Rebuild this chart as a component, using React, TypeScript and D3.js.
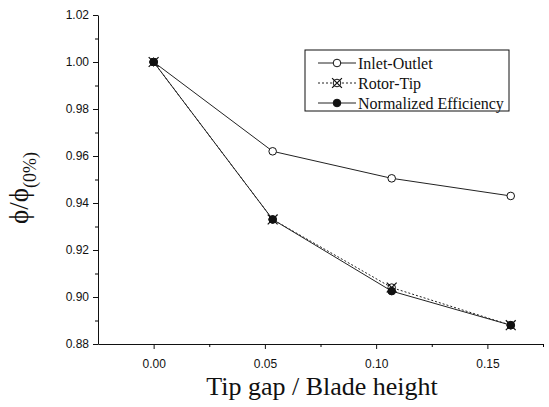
import React, { useEffect, useRef } from 'react';
import * as d3 from 'd3';

// tip gap ratio for each measured case
const gapRatio = [0, 0.0535, 0.107, 0.1605];

// series values (phi / phi at 0%)
const inletOutlet = [1.0, 0.962, 0.9505, 0.943];
const rotorTip = [1.0, 0.933, 0.904, 0.888];
const normalizedEfficiency = [1.0, 0.933, 0.9025, 0.888];

const seriesNames = ['Inlet-Outlet', 'Rotor-Tip', 'Normalized Efficiency'];

const xMajorTicks = [0, 0.05, 0.1, 0.15];
const xMinorTicks = [0.025, 0.075, 0.125, 0.175];
const yMajorTicks = [0.88, 0.9, 0.92, 0.94, 0.96, 0.98, 1.0, 1.02];
const yMinorTicks = [0.89, 0.91, 0.93, 0.95, 0.97, 0.99, 1.01];

const W = 549, H = 407;
const plot = { left: 98, right: 543, top: 15, bottom: 344 };

export default function App() {
	const svgRef = useRef<SVGSVGElement>(null);

	useEffect(() => {
		const svg = d3.select(svgRef.current);
		svg.selectAll('*').remove();

		const x = d3.scaleLinear().domain([-0.025, 0.175]).range([plot.left, plot.right]);
		const y = d3.scaleLinear().domain([0.88, 1.02]).range([plot.bottom, plot.top]);

		const sans = 'Liberation Sans, Arial, sans-serif';
		const serif = 'Liberation Serif, Times New Roman, serif';

		// axes
		const xAxis = svg.append('g').attr('transform', `translate(0,${plot.bottom})`)
			.call(d3.axisBottom(x).tickValues(xMajorTicks).tickFormat(d3.format('.2f')).tickSize(5).tickPadding(10).tickSizeOuter(0));
		svg.append('g').attr('transform', `translate(0,${plot.bottom})`)
			.call(d3.axisBottom(x).tickValues(xMinorTicks).tickFormat(() => '').tickSize(3).tickSizeOuter(0))
			.select('.domain').remove();
		const yAxis = svg.append('g').attr('transform', `translate(${plot.left},0)`)
			.call(d3.axisLeft(y).tickValues(yMajorTicks).tickFormat(d3.format('.2f')).tickSize(5).tickPadding(4).tickSizeOuter(0));
		svg.append('g').attr('transform', `translate(${plot.left},0)`)
			.call(d3.axisLeft(y).tickValues(yMinorTicks).tickFormat(() => '').tickSize(3).tickSizeOuter(0))
			.select('.domain').remove();

		[xAxis, yAxis].forEach(a => {
			a.selectAll('text').attr('font-family', sans).attr('font-size', 12).attr('fill', '#111');
			a.selectAll('line').attr('stroke', '#111');
			a.select('.domain').attr('stroke', '#111');
		});

		// axis titles
		svg.append('text')
			.attr('x', 322).attr('y', 395)
			.attr('text-anchor', 'middle')
			.attr('font-family', serif).attr('font-size', 26).attr('fill', '#111')
			.text('Tip gap / Blade height');

		const yl = svg.append('text')
			.attr('transform', 'translate(28,188) rotate(-90)')
			.attr('text-anchor', 'middle')
			.attr('font-family', serif).attr('font-size', 27).attr('fill', '#111');
		yl.append('tspan').text('\u03D5/\u03D5');
		yl.append('tspan').attr('font-size', 18).attr('dy', 8).text('(0%)');

		// series
		const line = d3.line<number>().x((d, i) => x(gapRatio[i])).y(d => y(d));
		const series = [
			{ name: seriesNames[0], values: inletOutlet, dash: null, marker: 'open' },
			{ name: seriesNames[1], values: rotorTip, dash: '2,2', marker: 'cross' },
			{ name: seriesNames[2], values: normalizedEfficiency, dash: null, marker: 'filled' },
		];

		const drawMarker = (g, cx, cy, kind) => {
			const r = 3.8;
			if (kind === 'open') {
				g.append('circle').attr('cx', cx).attr('cy', cy).attr('r', r).attr('fill', '#fff').attr('stroke', '#111').attr('stroke-width', 1);
			} else if (kind === 'filled') {
				g.append('circle').attr('cx', cx).attr('cy', cy).attr('r', r).attr('fill', '#111').attr('stroke', '#111').attr('stroke-width', 1);
			} else {
				g.append('circle').attr('cx', cx).attr('cy', cy).attr('r', r).attr('fill', '#fff').attr('stroke', '#111').attr('stroke-width', 1);
				const k = r * 1.3;
				g.append('path').attr('d', `M${cx - k},${cy - k}L${cx + k},${cy + k}M${cx - k},${cy + k}L${cx + k},${cy - k}`)
					.attr('stroke', '#111').attr('stroke-width', 1.2);
			}
		};

		series.forEach(s => {
			svg.append('path').datum(s.values)
				.attr('d', line)
				.attr('fill', 'none')
				.attr('stroke', '#222')
				.attr('stroke-width', 1)
				.attr('stroke-dasharray', s.dash);
		});
		series.forEach(s => {
			const g = svg.append('g');
			s.values.forEach((v, i) => drawMarker(g, x(gapRatio[i]), y(v), s.marker));
		});

		// legend
		const lg = svg.append('g');
		lg.append('rect').attr('x', 305).attr('y', 50).attr('width', 204).attr('height', 61)
			.attr('fill', '#fff').attr('stroke', '#111').attr('stroke-width', 1);
		series.forEach((s, i) => {
			const cy = 63 + i * 20;
			lg.append('line').attr('x1', 318).attr('x2', 356).attr('y1', cy).attr('y2', cy)
				.attr('stroke', '#222').attr('stroke-width', 1).attr('stroke-dasharray', s.dash);
			drawMarker(lg, 337, cy, s.marker);
			lg.append('text').attr('x', 358).attr('y', cy).attr('dy', '0.35em')
				.attr('font-family', serif).attr('font-size', 16).attr('fill', '#111')
				.text(s.name);
		});
	}, []);

	return (
		<svg ref={svgRef} width={W} height={H}
			style={{ position: 'absolute', left: 0, top: 0, background: '#fff' }} />
	);
}
